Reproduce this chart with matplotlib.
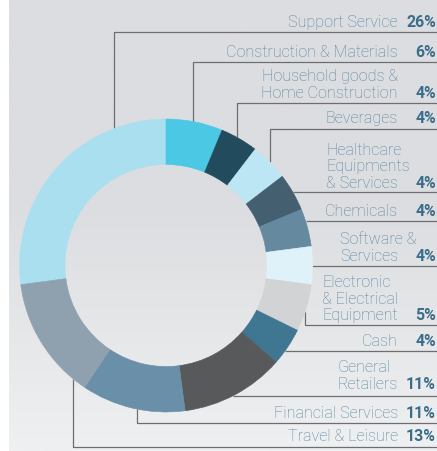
import numpy as np
import matplotlib.pyplot as plt
from matplotlib.colors import to_rgb

W, H = 437, 452

sectors = ["Support Service", "Construction & Materials",
           "Household goods &\nHome Construction", "Beverages",
           "Healthcare\nEquipments\n& Services", "Chemicals",
           "Software &\nServices", "Electronic\n& Electrical\nEquipment",
           "Cash", "General\nRetailers", "Financial Services", "Travel & Leisure"]
shares = [26, 6, 4, 4, 4, 4, 4, 5, 4, 11, 11, 13]
colors = ["#aadff0", "#4bc8e3", "#234b5e", "#bde6f4", "#445f70", "#658aa0",
          "#dff2f9", "#d2d3d5", "#3f7691", "#58595b", "#6a8fa8", "#8fa1ae"]

# label layout in pixels, measured from the top of the picture
text_y = [27, 57, 98, 123, 188, 216, 261, 320, 346, 389, 418, 441]
line_y = [33, 63, 104, 130, 193, 222, 267, 326, 352, 397, 424, 448]
drop_x = [114, 193, 237, 270, None, None, None, 305, None, None, 137, 73]

cx, cy, R, ring = 166, 266.5, 146.5, 45.5

plt.rcParams['font.family'] = ['Roboto', 'DejaVu Sans']

fig = plt.figure(figsize=(W / 100, H / 100), dpi=100)
ax = fig.add_axes([0, 0, 1, 1])

# background panel: grey, getting lighter towards the bottom
top, bot = np.array(to_rgb("#dcdde0")), np.array(to_rgb("#eff0f1"))
t = np.clip((np.linspace(0, 1, 200) - 0.45) / 0.55, 0, 1)[:, None]
grad = (top * (1 - t) + bot * t)[:, None, :]
ax.imshow(grad, extent=(9, W, 0, H), aspect='auto', origin='upper', zorder=0)

start = 90 + 360 * shares[0] / sum(shares)
ax.pie(shares, colors=colors, startangle=start, counterclock=False,
       radius=R, center=(cx, H - cy),
       wedgeprops=dict(width=ring, linewidth=0.4, edgecolor=None), frame=True)
for w in ax.patches:
    w.set_edgecolor(w.get_facecolor())
    w.set_zorder(2)

ax.set_xlim(0, W)
ax.set_ylim(0, H)
ax.axis('off')

line_kw = dict(color="#6d6e71", lw=0.9, zorder=1, solid_capstyle='butt')
name_kw = dict(color="#55839d", fontsize=11.6, fontweight='light')
pct_kw = dict(color="#3a6d8a", fontsize=11.4, fontweight='bold')

renderer = fig.canvas.get_renderer()
for name, pct, ty, ly, dx in zip(sectors, shares, text_y, line_y, drop_x):
    Y = H - ly
    if dx is None:
        x0 = cx + np.sqrt(R ** 2 - (ly - cy) ** 2)
        ax.plot([x0, W], [Y, Y], **line_kw)
    else:
        h = np.sqrt(R ** 2 - (dx - cx) ** 2)
        yend = cy - h if ly < cy else cy + h
        ax.plot([dx, dx, W], [H - yend, Y, Y], **line_kw)

    lines = name.split("\n")
    last = ax.text(398, H - ty, lines[-1], ha='right', va='baseline', **name_kw)
    if len(lines) > 1:
        x0 = last.get_window_extent(renderer).x0
        for k, ln in enumerate(reversed(lines[:-1])):
            ax.text(x0, H - ty + (k + 1) * 16.5, ln, ha='left', va='baseline', **name_kw)
    ax.text(436, H - ty, f"{pct}%", ha='right', va='baseline', **pct_kw)

fig.patch.set_facecolor('white')
fig.savefig("out.png", dpi=100, facecolor='white')
